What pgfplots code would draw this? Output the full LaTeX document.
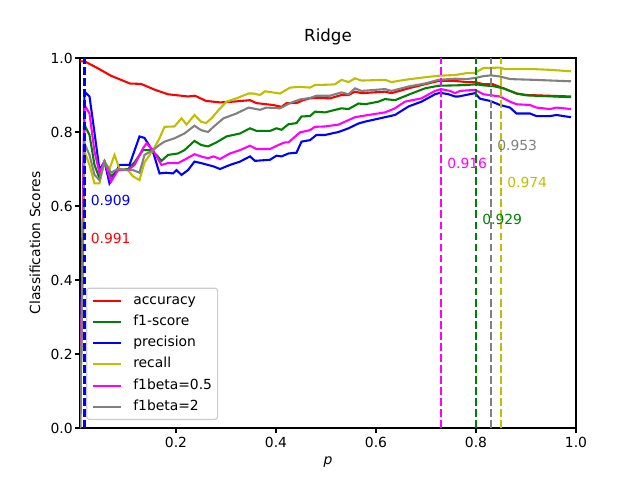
\documentclass[border=0pt]{standalone}
\usepackage{fontspec}
\setmainfont{DejaVu Sans}
\usepackage{pgfplots}
\pgfplotsset{compat=1.18}
\definecolor{cred}{rgb}{1,0,0}
\definecolor{cgreen}{rgb}{0,0.5,0}
\definecolor{cblue}{rgb}{0,0,1}
\definecolor{cyellow}{rgb}{0.75,0.75,0}
\definecolor{cmag}{rgb}{1,0,1}
\definecolor{cgray}{rgb}{0.5,0.5,0.5}
\definecolor{legframe}{rgb}{0.8,0.8,0.8}
\begin{document}
\begin{tikzpicture}
\begin{axis}[
  scale only axis, width=357.12pt, height=266.4pt,
  xmin=0.008, xmax=1.0, ymin=0, ymax=1,
  xtick={0.2,0.4,0.6,0.8,1.0}, ytick={0,0.2,0.4,0.6,0.8,1.0},
  /pgf/number format/.cd, fixed, fixed zerofill, precision=1, assume math mode=true, /pgfplots/.cd,
  tick align=outside, xtick pos=bottom, ytick pos=left,
  major tick length=3.5pt,
  every tick/.style={black, line width=0.8pt},
  axis line style={line width=0.8pt},
  xticklabel style={anchor=base, inner sep=0pt, yshift=-10.6pt},
  yticklabel style={anchor=east, inner sep=0pt, xshift=-1.6pt},
  title={\fontsize{12}{14}\selectfont Ridge},
  title style={at={(axis description cs:0.5,1)}, anchor=base, yshift=6pt, inner sep=0pt},
  xlabel={\textit{p}},
  xlabel style={at={(axis description cs:0.5,-0.0919)}, anchor=center},
  ylabel={Classification Scores},
  ylabel style={at={(axis description cs:-0.0907,0.5)}, anchor=center, rotate=0},
  legend style={at={(axis description cs:0.0125,0.0216)}, anchor=south west,
    draw=legframe, line width=0.8pt, rounded corners=2pt, fill=white, fill opacity=0.8, text opacity=1,
    inner sep=4pt, row sep=5.3pt, column sep=8pt,
    nodes={inner sep=0pt, text height=7.5pt, text depth=2.5pt}},
  legend cell align=left,
  legend image code/.code={\draw[#1] (0pt,0pt) -- (20pt,0pt);},
  every axis plot/.append style={line width=1.5pt},
]
\addplot[cred] coordinates {(0.008,0.991) (0.017,0.991) (0.044,0.972) (0.07,0.952) (0.108,0.931) (0.13,0.93) (0.158,0.914) (0.184,0.902) (0.224,0.896) (0.238,0.898) (0.26,0.884) (0.288,0.88) (0.314,0.882) (0.348,0.886) (0.361,0.878) (0.394,0.873) (0.411,0.868) (0.421,0.878) (0.441,0.878) (0.454,0.886) (0.468,0.891) (0.481,0.892) (0.508,0.891) (0.531,0.9) (0.545,0.9) (0.558,0.909) (0.571,0.905) (0.618,0.909) (0.631,0.905) (0.665,0.918) (0.698,0.929) (0.725,0.938) (0.758,0.938) (0.781,0.935) (0.798,0.935) (0.815,0.929) (0.834,0.929) (0.855,0.918) (0.881,0.904) (0.901,0.9) (0.99,0.896)};
\addlegendentry{accuracy}
\addplot[cgreen] coordinates {(0.008,0) (0.017,0.819) (0.027,0.792) (0.037,0.711) (0.047,0.675) (0.057,0.72) (0.07,0.68) (0.084,0.697) (0.104,0.70) (0.117,0.718) (0.134,0.751) (0.147,0.751) (0.161,0.738) (0.171,0.722) (0.184,0.738) (0.204,0.742) (0.217,0.751) (0.237,0.776) (0.25,0.765) (0.264,0.761) (0.281,0.772) (0.301,0.788) (0.328,0.796) (0.348,0.81) (0.361,0.803) (0.388,0.803) (0.401,0.81) (0.411,0.806) (0.425,0.821) (0.441,0.824) (0.451,0.842) (0.468,0.843) (0.478,0.855) (0.498,0.853) (0.531,0.864) (0.545,0.862) (0.565,0.877) (0.578,0.875) (0.605,0.882) (0.618,0.889) (0.638,0.886) (0.671,0.904) (0.698,0.918) (0.725,0.925) (0.758,0.926) (0.781,0.927) (0.80,0.929) (0.815,0.926) (0.834,0.924) (0.855,0.918) (0.881,0.904) (0.901,0.899) (0.99,0.894)};
\addlegendentry{f1-score}
\addplot[cblue] coordinates {(0.008,0) (0.017,0.909) (0.027,0.896) (0.034,0.828) (0.047,0.697) (0.057,0.72) (0.067,0.661) (0.077,0.684) (0.087,0.711) (0.107,0.711) (0.114,0.738) (0.127,0.788) (0.137,0.784) (0.154,0.747) (0.167,0.688) (0.18,0.69) (0.194,0.688) (0.201,0.697) (0.211,0.684) (0.224,0.697) (0.237,0.72) (0.25,0.716) (0.264,0.711) (0.275,0.707) (0.288,0.7) (0.308,0.711) (0.328,0.72) (0.348,0.734) (0.358,0.722) (0.388,0.725) (0.401,0.736) (0.411,0.734) (0.425,0.742) (0.441,0.744) (0.451,0.774) (0.468,0.778) (0.481,0.792) (0.498,0.792) (0.525,0.8) (0.545,0.81) (0.565,0.823) (0.578,0.828) (0.618,0.84) (0.638,0.846) (0.665,0.869) (0.691,0.882) (0.718,0.902) (0.728,0.906) (0.745,0.902) (0.758,0.896) (0.765,0.896) (0.798,0.905) (0.808,0.89) (0.828,0.884) (0.848,0.873) (0.868,0.866) (0.881,0.85) (0.908,0.85) (0.921,0.843) (0.948,0.843) (0.961,0.846) (0.975,0.843) (0.99,0.84)};
\addlegendentry{precision}
\addplot[cyellow] coordinates {(0.008,0) (0.017,0.747) (0.027,0.711) (0.037,0.661) (0.047,0.661) (0.057,0.72) (0.067,0.70) (0.077,0.738) (0.087,0.70) (0.104,0.697) (0.114,0.68) (0.127,0.67) (0.137,0.718) (0.154,0.751) (0.167,0.783) (0.177,0.814) (0.197,0.815) (0.211,0.837) (0.221,0.82) (0.237,0.846) (0.25,0.828) (0.26,0.824) (0.271,0.837) (0.285,0.859) (0.301,0.882) (0.321,0.891) (0.345,0.904) (0.355,0.904) (0.368,0.9) (0.378,0.91) (0.408,0.904) (0.428,0.92) (0.448,0.922) (0.468,0.92) (0.478,0.927) (0.508,0.928) (0.518,0.929) (0.531,0.941) (0.545,0.935) (0.558,0.945) (0.571,0.939) (0.618,0.941) (0.631,0.935) (0.658,0.941) (0.698,0.948) (0.725,0.952) (0.758,0.954) (0.781,0.959) (0.798,0.96) (0.815,0.973) (0.848,0.974) (0.858,0.97) (0.915,0.97) (0.948,0.968) (0.99,0.964)};
\addlegendentry{recall}
\addplot[cmag] coordinates {(0.008,0) (0.017,0.873) (0.027,0.85) (0.037,0.747) (0.047,0.69) (0.057,0.72) (0.07,0.666) (0.084,0.697) (0.104,0.697) (0.117,0.711) (0.134,0.756) (0.141,0.769) (0.154,0.751) (0.171,0.711) (0.184,0.716) (0.204,0.716) (0.217,0.725) (0.237,0.74) (0.25,0.734) (0.264,0.729) (0.275,0.734) (0.288,0.727) (0.308,0.742) (0.328,0.751) (0.348,0.763) (0.361,0.754) (0.388,0.754) (0.405,0.765) (0.418,0.772) (0.425,0.772) (0.448,0.799) (0.468,0.805) (0.478,0.814) (0.498,0.815) (0.525,0.82) (0.558,0.84) (0.571,0.843) (0.618,0.853) (0.638,0.864) (0.658,0.882) (0.691,0.891) (0.718,0.911) (0.73,0.916) (0.748,0.911) (0.758,0.905) (0.768,0.911) (0.798,0.914) (0.815,0.902) (0.848,0.896) (0.868,0.882) (0.881,0.875) (0.908,0.873) (0.921,0.866) (0.948,0.862) (0.961,0.866) (0.99,0.862)};
\addlegendentry{f1beta=0.5}
\addplot[cgray] coordinates {(0.008,0) (0.017,0.769) (0.027,0.738) (0.037,0.684) (0.047,0.67) (0.057,0.72) (0.07,0.69) (0.084,0.70) (0.104,0.697) (0.114,0.697) (0.127,0.69) (0.137,0.738) (0.154,0.751) (0.167,0.765) (0.177,0.774) (0.197,0.783) (0.217,0.796) (0.237,0.817) (0.25,0.805) (0.264,0.80) (0.275,0.814) (0.295,0.837) (0.321,0.85) (0.345,0.866) (0.368,0.86) (0.381,0.866) (0.408,0.864) (0.428,0.878) (0.448,0.888) (0.468,0.892) (0.481,0.898) (0.508,0.898) (0.531,0.907) (0.545,0.902) (0.558,0.918) (0.571,0.911) (0.618,0.916) (0.631,0.911) (0.665,0.923) (0.698,0.931) (0.725,0.941) (0.758,0.944) (0.781,0.943) (0.798,0.946) (0.815,0.951) (0.83,0.953) (0.848,0.95) (0.868,0.943) (0.915,0.941) (0.99,0.937)};
\addlegendentry{f1beta=2}
\addplot[cred, dash pattern=on 5.55pt off 2.4pt, forget plot] coordinates {(0.017,0) (0.017,1)};
\addplot[cgreen, dash pattern=on 5.55pt off 2.4pt, forget plot] coordinates {(0.80,0) (0.80,1)};
\addplot[cblue, dash pattern=on 5.55pt off 2.4pt, forget plot] coordinates {(0.017,0) (0.017,1)};
\addplot[cyellow, dash pattern=on 5.55pt off 2.4pt, forget plot] coordinates {(0.85,0) (0.85,1)};
\addplot[cmag, dash pattern=on 5.55pt off 2.4pt, forget plot] coordinates {(0.73,0) (0.73,1)};
\addplot[cgray, dash pattern=on 5.55pt off 2.4pt, forget plot] coordinates {(0.83,0) (0.83,1)};
\node[anchor=base west, inner sep=0pt, text=cred] at (axis cs:0.029,0.5) {0.991};
\node[anchor=base west, inner sep=0pt, text=cgreen] at (axis cs:0.812,0.55) {0.929};
\node[anchor=base west, inner sep=0pt, text=cblue] at (axis cs:0.029,0.6) {0.909};
\node[anchor=base west, inner sep=0pt, text=cyellow] at (axis cs:0.862,0.65) {0.974};
\node[anchor=base west, inner sep=0pt, text=cmag] at (axis cs:0.742,0.7) {0.916};
\node[anchor=base west, inner sep=0pt, text=cgray] at (axis cs:0.842,0.75) {0.953};
\end{axis}
\pgfresetboundingbox
\path[use as bounding box] (-57.6pt,-37.44pt) rectangle (403.2pt,308.16pt);
\end{tikzpicture}
\end{document}
